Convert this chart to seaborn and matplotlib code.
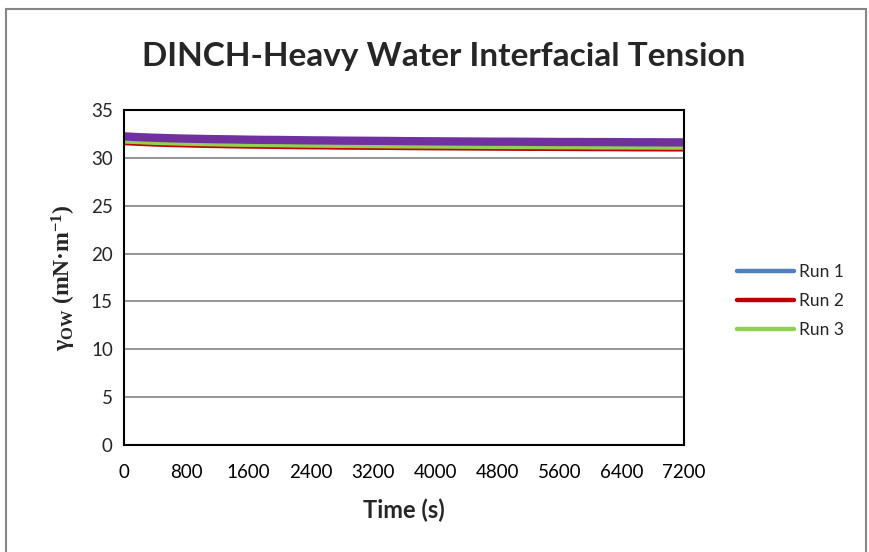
import matplotlib
matplotlib.use("Agg")
import matplotlib.pyplot as plt
import matplotlib.patches as mpatches
from matplotlib.lines import Line2D
import seaborn as sns
import pandas as pd

# Time axis (s) and interfacial tension readings (mN/m) for each run
time_s = [0, 200, 400, 600, 800, 1000, 1200, 1400, 1600, 1800, 2000, 2200, 2400,
          2600, 2800, 3000, 3200, 3400, 3600, 3800, 4000, 4200, 4400, 4600, 4800,
          5000, 5200, 5400, 5600, 5800, 6000, 6200, 6400, 6600, 6800, 7000, 7200]

run1 = [32.20, 32.12, 32.06, 32.02, 31.98, 31.95, 31.92, 31.90, 31.87, 31.85, 31.84, 31.82,
        31.80, 31.79, 31.77, 31.76, 31.75, 31.74, 31.72, 31.71, 31.70, 31.69, 31.68, 31.67,
        31.66, 31.66, 31.65, 31.64, 31.63, 31.63, 31.62, 31.62, 31.61, 31.60, 31.60, 31.59, 31.59]
run2 = [31.48, 31.40, 31.33, 31.28, 31.24, 31.20, 31.17, 31.14, 31.12, 31.10, 31.08, 31.06,
        31.04, 31.03, 31.01, 31.00, 30.99, 30.98, 30.96, 30.95, 30.94, 30.93, 30.92, 30.91,
        30.90, 30.89, 30.88, 30.88, 30.87, 30.86, 30.85, 30.85, 30.84, 30.83, 30.83, 30.82, 30.82]
run3 = [31.72, 31.65, 31.58, 31.53, 31.49, 31.45, 31.42, 31.39, 31.37, 31.35, 31.33, 31.31,
        31.29, 31.28, 31.26, 31.25, 31.24, 31.22, 31.21, 31.20, 31.19, 31.18, 31.17, 31.16,
        31.15, 31.14, 31.14, 31.13, 31.12, 31.12, 31.11, 31.10, 31.10, 31.09, 31.09, 31.08, 31.08]
run4 = [32.25, 32.16, 32.10, 32.05, 32.01, 31.98, 31.95, 31.93, 31.90, 31.88, 31.87, 31.85,
        31.83, 31.82, 31.80, 31.79, 31.78, 31.77, 31.75, 31.74, 31.73, 31.72, 31.71, 31.70,
        31.69, 31.69, 31.68, 31.67, 31.66, 31.66, 31.65, 31.65, 31.64, 31.63, 31.63, 31.62, 31.62]

run_names = ["Run 1", "Run 2", "Run 3", "Run 4"]
run_colors = ["#4F81BD", "#C00000", "#92D050", "#7030A0"]
run_widths = [3.0, 2.2, 3.2, 6.0]

x_ticks = [0, 800, 1600, 2400, 3200, 4000, 4800, 5600, 6400, 7200]
y_ticks = [0, 5, 10, 15, 20, 25, 30, 35]

sns.set_style("white")
plt.rcParams["font.family"] = ["Lato", "DejaVu Sans"]
plt.rcParams["mathtext.fontset"] = "custom"
plt.rcParams["mathtext.rm"] = "Liberation Serif:bold"
plt.rcParams["mathtext.it"] = "Liberation Serif:bold"
plt.rcParams["mathtext.bf"] = "Liberation Serif:bold"

fig = plt.figure(figsize=(8.7, 5.52), dpi=100)
ax = fig.add_axes([0.1425, 0.1938, 0.6437, 0.6069])

df = pd.DataFrame({"time": time_s * 4,
                   "gamma": run1 + run2 + run3 + run4,
                   "run": sum([[n] * len(time_s) for n in run_names], [])})

for name, color, lw in zip(run_names, run_colors, run_widths):
    sns.lineplot(data=df[df["run"] == name], x="time", y="gamma", color=color,
                 linewidth=lw, ax=ax, legend=False, solid_capstyle="butt")

ax.set_xlim(0, 7200)
ax.set_ylim(0, 35)
ax.set_xticks(x_ticks)
ax.set_yticks(y_ticks)
ax.tick_params(axis="x", direction="in", length=5, width=1, labelsize=13.5, pad=14, colors="black")
ax.tick_params(axis="y", length=0, labelsize=13.5, pad=8)
ax.yaxis.grid(True, color="#8C8C8C", linewidth=1.3)
ax.xaxis.grid(False)
for s in ax.spines.values():
    s.set_visible(True)
    s.set_color("black")
    s.set_linewidth(1.5)

ax.set_xlabel("Time (s)", fontsize=17, fontweight="bold", labelpad=12)
ax.set_ylabel(r"$\mathregular{\gamma_{OW}}$ (mN·m$^{\mathregular{-1}}$)", fontsize=17,
              fontweight="bold", family=["Liberation Serif"], labelpad=9)

fig.text(0.51, 0.897, "DINCH-Heavy Water Interfacial Tension", ha="center", va="center",
         fontsize=24, fontweight="bold")

handles = [Line2D([0], [0], color=c, linewidth=3.2) for c in run_colors[:3]]
ax.legend(handles, run_names[:3], loc="center left", bbox_to_anchor=(1.067, 0.43),
          frameon=False, fontsize=12.5, handlelength=3.3, handletextpad=0.25,
          labelspacing=0.75)

fig.patches.append(mpatches.Rectangle((0.007, -0.05), 0.988, 1.034, transform=fig.transFigure,
                                      fill=False, edgecolor="#868686", linewidth=1.5))

fig.savefig("out.png", dpi=100)
